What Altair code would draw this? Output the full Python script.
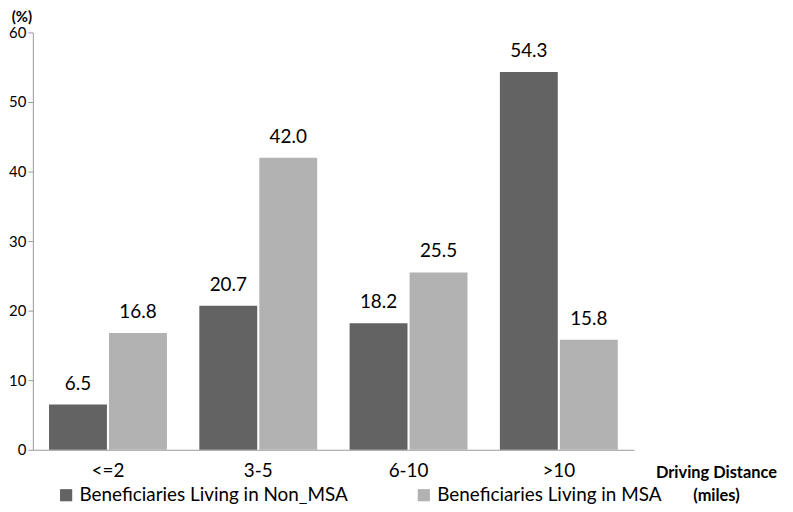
import altair as alt
import pandas as pd

categories = ["<=2", "3-5", "6-10", ">10"]
series = ["Beneficiaries Living in Non_MSA", "Beneficiaries Living in MSA"]
non_msa = [6.5, 20.7, 18.2, 54.3]
msa = [16.8, 42.0, 25.5, 15.8]
y_ticks = [0, 10, 20, 30, 40, 50, 60]
colors = ["#636363", "#b2b2b2"]

rows = []
for i, c in enumerate(categories):
    rows.append({"cat": c, "series": series[0], "value": non_msa[i]})
    rows.append({"cat": c, "series": series[1], "value": msa[i]})
df = pd.DataFrame(rows)

FONT = "Lato"

x_enc = alt.X("cat:N", sort=categories, title=None,
              scale=alt.Scale(paddingInner=0, paddingOuter=0),
              axis=alt.Axis(labelAngle=0, ticks=False, labelFontSize=19,
                            labelPadding=12, labelColor="#000",
                            domainColor="#999", labelFont=FONT))
xo = alt.XOffset("series:N", sort=series,
                 scale=alt.Scale(paddingInner=0.035, paddingOuter=0.27))
y_enc = alt.Y("value:Q", title=None,
              scale=alt.Scale(domain=[0, 60], nice=False),
              axis=alt.Axis(values=y_ticks, grid=False, tickSize=5,
                            tickColor="#999", domainColor="#999",
                            labelFontSize=15, labelColor="#000",
                            labelPadding=2, labelFont=FONT))

bars = alt.Chart(df).mark_bar(stroke=None).encode(
    x=x_enc, xOffset=xo, y=y_enc,
    color=alt.Color("series:N", sort=series,
                    scale=alt.Scale(domain=series, range=colors),
                    legend=alt.Legend(title=None, orient="none",
                                      direction="horizontal",
                                      legendX=24, legendY=456,
                                      symbolType="square", symbolSize=150,
                                      symbolStrokeWidth=0,
                                      labelFontSize=19, labelFont=FONT,
                                      labelColor="#000", labelLimit=400,
                                      columnPadding=66, symbolOffset=0,
                                      labelOffset=4)),
)

labels = alt.Chart(df).mark_text(baseline="alphabetic", dy=-15,
                                 fontSize=19, font=FONT, color="#000").encode(
    x=alt.X("cat:N", sort=categories), xOffset=alt.XOffset("series:N", sort=series),
    y="value:Q",
    text=alt.Text("value:Q", format=".1f"),
)

ann = pd.DataFrame({"t": ["(%)"]})
pct = alt.Chart(ann).mark_text(fontSize=15, fontWeight="bold", font=FONT,
                               color="#000").encode(
    x=alt.value(-11), y=alt.value(-16), text="t:N")

dd = pd.DataFrame({"t": ["Driving Distance"]})
dd_txt = alt.Chart(dd).mark_text(fontSize=16.5, fontWeight="bold", font=FONT,
                                 color="#000").encode(
    x=alt.value(688), y=alt.value(443), text="t:N")
mi = pd.DataFrame({"t": ["(miles)"]})
mi_txt = alt.Chart(mi).mark_text(fontSize=16.5, fontWeight="bold", font=FONT,
                                 color="#000").encode(
    x=alt.value(688), y=alt.value(467), text="t:N")

chart = alt.layer(bars, labels, pct, dd_txt, mi_txt).properties(
    width=605, height=420,
    autosize=alt.AutoSizeParams(type="none"),
    padding={"left": 25, "top": 23, "right": 152, "bottom": 53},
).configure_view(stroke=None).configure_axis(labelFont=FONT)

chart.save("out.html", embed_options={"renderer": "svg", "actions": False})
